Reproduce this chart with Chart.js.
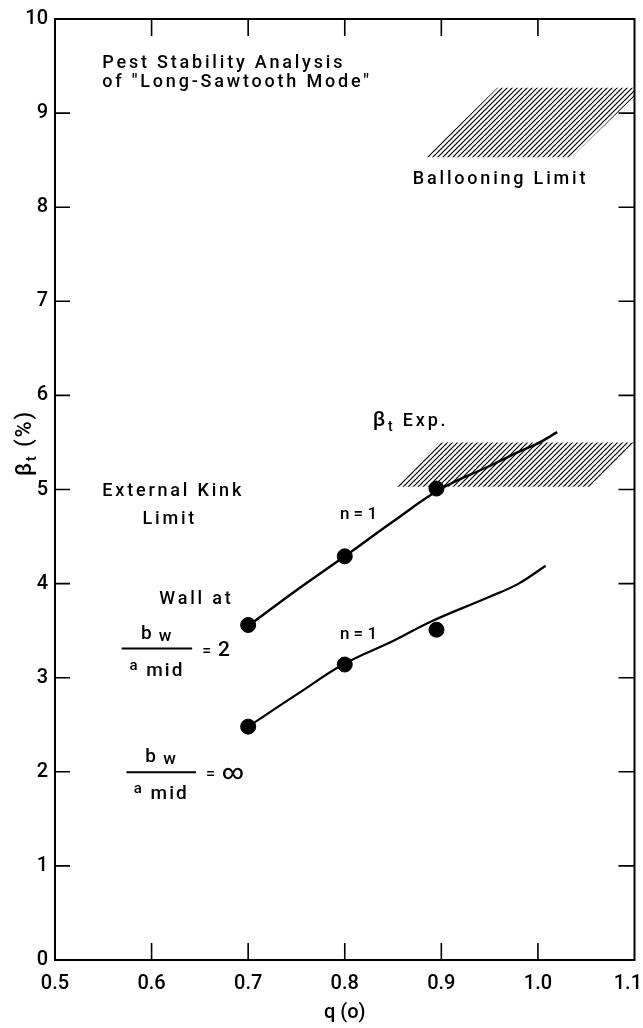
<!DOCTYPE html>
<html>
<head>
<meta charset="utf-8">
<style>
  html, body { margin: 0; padding: 0; background: #fff; }
</style>
<script src="https://cdn.jsdelivr.net/npm/chart.js@4.4.0/dist/chart.umd.min.js"></script>
</head>
<body>
<canvas id="pestChart" width="643" height="1028"></canvas>
<script>
const qTicks = [0.5, 0.6, 0.7, 0.8, 0.9, 1.0, 1.1];
const betaTicks = [0, 1, 2, 3, 4, 5, 6, 7, 8, 9, 10];

// PEST points, wall at b/a = 2 and b/a = infinity
const wallQ = [0.7, 0.8, 0.895];
const wallBeta = [3.56, 4.29, 5.01];
const noWallQ = [0.7, 0.8, 0.895];
const noWallBeta = [2.48, 3.14, 3.51];

// hand drawn curves through them
const wallCurveQ = [0.7, 0.75, 0.8, 0.85, 0.9, 0.95, 0.98, 1.0, 1.02];
const wallCurveBeta = [3.55, 3.93, 4.29, 4.66, 5.01, 5.25, 5.40, 5.49, 5.61];
const noWallCurveQ = [0.7, 0.75, 0.8, 0.85, 0.89, 0.95, 0.98, 1.008];
const noWallCurveBeta = [2.48, 2.82, 3.15, 3.39, 3.60, 3.86, 4.00, 4.19];

// hatched bands
const balloonQ = [0.884, 1.035, 1.1, 1.1, 0.958];
const balloonBeta = [8.53, 8.53, 9.18, 9.27, 9.27];
const expQ = [0.852, 1.056, 1.1, 0.897];
const expBeta = [5.03, 5.03, 5.5, 5.5];

const FONT = 'Roboto';
const W = '500 ';

function pts(xs, ys) {
  return xs.map((x, i) => ({ x: x, y: ys[i] }));
}

function hatch() {
  const c = document.createElement('canvas');
  c.width = 5; c.height = 5;
  const g = c.getContext('2d');
  g.strokeStyle = '#000';
  g.lineWidth = 1.2;
  g.beginPath();
  g.moveTo(0, 5); g.lineTo(5, 0);
  g.moveTo(-1, 1); g.lineTo(1, -1);
  g.moveTo(4, 6); g.lineTo(6, 4);
  g.stroke();
  return g.createPattern(c, 'repeat');
}

// text with sub/superscript pieces: [text, size, dy]
function rich(ctx, parts, x, y, align, spacing) {
  ctx.letterSpacing = (spacing || 0) + 'px';
  let w = 0;
  parts.forEach(p => { ctx.font = W + p[1] + 'px ' + FONT; w += ctx.measureText(p[0]).width; });
  let cx = align === 'center' ? x - w / 2 : x;
  ctx.textAlign = 'left';
  parts.forEach(p => {
    ctx.font = W + p[1] + 'px ' + FONT;
    ctx.fillText(p[0], cx, y + p[2]);
    cx += ctx.measureText(p[0]).width;
  });
  ctx.letterSpacing = '0px';
  return w;
}

const decor = {
  id: 'decor',
  afterDraw(chart) {
    const ctx = chart.ctx;
    const a = chart.chartArea;
    const xs = chart.scales.x, ys = chart.scales.y;
    const px = v => xs.getPixelForValue(v);
    const py = v => ys.getPixelForValue(v);
    ctx.save();
    ctx.strokeStyle = '#000';
    ctx.fillStyle = '#000';

    // frame with inward ticks
    ctx.lineWidth = 2;
    ctx.strokeRect(a.left, a.top, a.right - a.left, a.bottom - a.top);
    ctx.lineWidth = 1.6;
    ctx.beginPath();
    qTicks.slice(1, -1).forEach(v => {
      ctx.moveTo(px(v), a.bottom); ctx.lineTo(px(v), a.bottom - 17);
      ctx.moveTo(px(v), a.top); ctx.lineTo(px(v), a.top + 17);
    });
    betaTicks.slice(1, -1).forEach(v => {
      ctx.moveTo(a.left, py(v)); ctx.lineTo(a.left + 15, py(v));
      ctx.moveTo(a.right, py(v)); ctx.lineTo(a.right - 16, py(v));
    });
    ctx.stroke();

    // last x label sits against the edge
    ctx.font = W + '20px ' + FONT;
    ctx.textAlign = 'right';
    ctx.textBaseline = 'middle';
    ctx.fillText(qTicks[qTicks.length - 1].toFixed(1), chart.width - 1, a.bottom + xs.options.ticks.padding + 12);

    // y title
    ctx.textBaseline = 'alphabetic';
    ctx.save();
    ctx.translate(31, 476);
    ctx.rotate(-Math.PI / 2);
    rich(ctx, [['\u03B2', 22, 0], ['t', 15, 5], [' (%)', 22, 0]], 0, 0, 'left', 1.8);
    ctx.restore();

    // annotations
    const t = (s, q, b) => rich(ctx, [[s, 18, 0]], px(q), py(b), 'left', 2.8);
    t('Pest Stability Analysis', 0.549, 9.48);
    t('of "Long-Sawtooth Mode"', 0.549, 9.277);
    t('Ballooning Limit', 0.8705, 8.245);
    rich(ctx, [['\u03B2', 21, 0], ['t', 14, 5], [' Exp.', 18, 0]], px(0.829), py(5.67), 'left', 2.8);
    t('External Kink', 0.549, 4.936);
    t('Limit', 0.5906, 4.638);
    t('Wall at', 0.608, 3.787);
    rich(ctx, [['n = 1', 17, 0]], px(0.795), py(4.69), 'left', 0);
    rich(ctx, [['n = 1', 17, 0]], px(0.795), py(3.415), 'left', 0);

    // b_w / a_mid fractions
    const frac = (q0, q1, b, rhs) => {
      const y = py(b), x0 = px(q0), x1 = px(q1), xc = (x0 + x1) / 2;
      ctx.lineWidth = 2;
      ctx.beginPath(); ctx.moveTo(x0, y); ctx.lineTo(x1, y); ctx.stroke();
      rich(ctx, [['b', 19, 0], [' w', 17, 2]], xc, y - 10, 'center', 1.5);
      rich(ctx, [['a', 15, -6], [' mid', 19, 0]], xc, y + 27, 'center', 2);
      rich(ctx, [['= ', 16, 0], [rhs, 21, 0]], x1 + 10, y + 7, 'left', 1.5);
    };
    frac(0.569, 0.642, 3.309, '2');
    frac(0.574, 0.646, 1.996, '\u221E');
    ctx.restore();
  }
};

const pattern = hatch();

new Chart(document.getElementById('pestChart'), {
  type: 'scatter',
  data: {
    datasets: [
      { data: pts(wallQ, wallBeta), pointRadius: 7.5, pointHoverRadius: 7.5,
        backgroundColor: '#000', borderColor: '#000', showLine: false },
      { data: pts(noWallQ, noWallBeta), pointRadius: 7.5, pointHoverRadius: 7.5,
        backgroundColor: '#000', borderColor: '#000', showLine: false },
      { data: pts(wallCurveQ, wallCurveBeta), showLine: true, pointRadius: 0,
        borderColor: '#000', borderWidth: 2.4, tension: 0.4 },
      { data: pts(noWallCurveQ, noWallCurveBeta), showLine: true, pointRadius: 0,
        borderColor: '#000', borderWidth: 2.2, tension: 0.4 },
      { data: pts(expQ, expBeta), showLine: true, pointRadius: 0, borderWidth: 0,
        borderColor: 'rgba(0,0,0,0)', backgroundColor: pattern, fill: 'shape' },
      { data: pts(balloonQ, balloonBeta), showLine: true, pointRadius: 0, borderWidth: 0,
        borderColor: 'rgba(0,0,0,0)', backgroundColor: pattern, fill: 'shape' }
    ]
  },
  options: {
    responsive: false,
    animation: false,
    layout: { padding: { left: 0, right: 5, top: 15, bottom: 0 } },
    plugins: {
      legend: { display: false },
      tooltip: { enabled: false },
      filler: { propagate: false }
    },
    scales: {
      x: {
        type: 'linear',
        min: 0.5,
        max: 1.1,
        afterBuildTicks: s => { s.ticks = qTicks.map(v => ({ value: v })); },
        afterFit: s => { s.height = 68; s.paddingLeft = 0; s.paddingRight = 0; },
        grid: { display: false, drawTicks: false },
        border: { display: false },
        ticks: {
          color: '#000',
          font: { family: FONT, size: 20, weight: 500 },
          padding: 12,
          maxRotation: 0,
          autoSkip: false,
          callback: v => (v === qTicks[qTicks.length - 1] ? '' : v.toFixed(1))
        },
        title: {
          display: true,
          text: 'q (o)',
          color: '#000',
          font: { family: FONT, size: 20, weight: 500 },
          padding: { top: 0, bottom: 3 }
        }
      },
      y: {
        min: 0,
        max: 10,
        afterBuildTicks: s => { s.ticks = betaTicks.map(v => ({ value: v })); },
        afterFit: s => { s.width = 55; },
        grid: { display: false, drawTicks: false },
        border: { display: false },
        ticks: {
          color: '#000',
          font: { family: FONT, size: 20, weight: 500 },
          padding: 7,
          autoSkip: false,
          callback: v => String(v)
        }
      }
    }
  },
  plugins: [decor]
});
</script>
</body>
</html>
